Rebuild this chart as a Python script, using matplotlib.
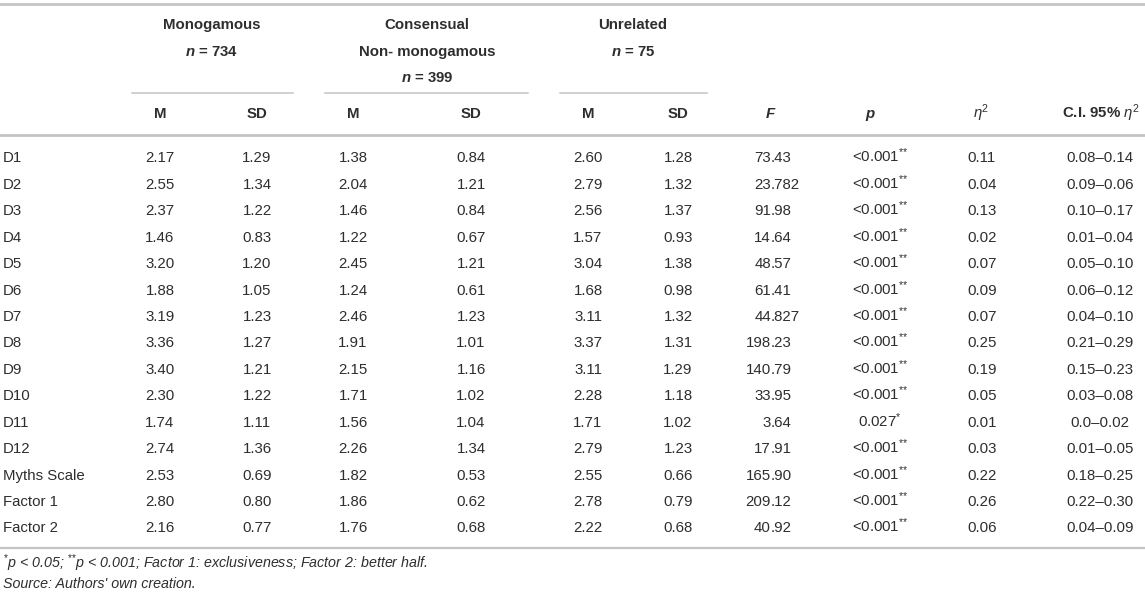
import matplotlib
matplotlib.use("Agg")
import matplotlib.pyplot as plt

plt.rcParams['font.family'] = ['Liberation Sans', 'DejaVu Sans']
plt.rcParams['mathtext.fontset'] = 'custom'
plt.rcParams['mathtext.rm'] = 'Liberation Sans'
plt.rcParams['mathtext.it'] = 'Liberation Sans:italic'
plt.rcParams['mathtext.bf'] = 'Liberation Sans:bold'
plt.rcParams['mathtext.bfit'] = 'Liberation Sans:italic:bold'

# ---- table data ----
row_labels = ['D1', 'D2', 'D3', 'D4', 'D5', 'D6', 'D7', 'D8', 'D9', 'D10',
              'D11', 'D12', 'Myths Scale', 'Factor 1', 'Factor 2']
mono_m = ['2.17', '2.55', '2.37', '1.46', '3.20', '1.88', '3.19', '3.36', '3.40',
          '2.30', '1.74', '2.74', '2.53', '2.80', '2.16']
mono_sd = ['1.29', '1.34', '1.22', '0.83', '1.20', '1.05', '1.23', '1.27', '1.21',
           '1.22', '1.11', '1.36', '0.69', '0.80', '0.77']
cons_m = ['1.38', '2.04', '1.46', '1.22', '2.45', '1.24', '2.46', '1.91', '2.15',
          '1.71', '1.56', '2.26', '1.82', '1.86', '1.76']
cons_sd = ['0.84', '1.21', '0.84', '0.67', '1.21', '0.61', '1.23', '1.01', '1.16',
           '1.02', '1.04', '1.34', '0.53', '0.62', '0.68']
unrel_m = ['2.60', '2.79', '2.56', '1.57', '3.04', '1.68', '3.11', '3.37', '3.11',
           '2.28', '1.71', '2.79', '2.55', '2.78', '2.22']
unrel_sd = ['1.28', '1.32', '1.37', '0.93', '1.38', '0.98', '1.32', '1.31', '1.29',
            '1.18', '1.02', '1.23', '0.66', '0.79', '0.68']
f_vals = ['73.43', '23.782', '91.98', '14.64', '48.57', '61.41', '44.827', '198.23',
          '140.79', '33.95', '3.64', '17.91', '165.90', '209.12', '40.92']
p_vals = ['<0.001**'] * 10 + ['0.027*'] + ['<0.001**'] * 4
eta2 = ['0.11', '0.04', '0.13', '0.02', '0.07', '0.09', '0.07', '0.25', '0.19',
        '0.05', '0.01', '0.03', '0.22', '0.26', '0.06']
ci95 = ['0.08–0.14', '0.09–0.06', '0.10–0.17', '0.01–0.04', '0.05–0.10', '0.06–0.12',
        '0.04–0.10', '0.21–0.29', '0.15–0.23', '0.03–0.08', '0.0–0.02', '0.01–0.05',
        '0.18–0.25', '0.22–0.30', '0.04–0.09']

groups = [('Monogamous', None, '734'),
          ('Consensual', 'Non- monogamous', '399'),
          ('Unrelated', None, '75')]

TXT = '#2e2e2e'
LINE = '#c4c4c4'
FS = 10.8
BL = 5.4  # centre -> baseline offset in px


def put(x, y, s, ha='center', **kw):
    kw.setdefault('fontsize', FS)
    kw.setdefault('color', TXT)
    ax.text(x, y + BL, s, ha=ha, va='baseline', **kw)


def sup_stars(k):
    return r'$^{' + '{*}' * k + '}$'


fig = plt.figure(figsize=(11.45, 5.94), dpi=100)
ax = fig.add_axes([0, 0, 1, 1])
ax.set_xlim(0, 1145)
ax.set_ylim(594, 0)
ax.axis('off')

# column centres
group_cx = [212, 427, 633]
group_span = [(132, 293), (325, 528), (560, 707)]
col_x = [160, 257, 353, 471, 588, 678]

# rules
ax.plot([0, 1145], [4, 4], color=LINE, lw=2)
ax.plot([0, 1145], [135, 135], color=LINE, lw=2)
ax.plot([0, 1145], [548, 548], color=LINE, lw=1.6)
for x0, x1 in group_span:
    ax.plot([x0, x1], [93, 93], color=LINE, lw=1.1)

# group headers
for (name, sub, n), cx in zip(groups, group_cx):
    lines = [name] + ([sub] if sub else [])
    for i, ln in enumerate(lines):
        put(cx, 24 + 26.5 * i, ln, fontweight='bold')
    put(cx, 24 + 26.5 * len(lines), r'$\mathbfit{n}$ = ' + n, fontweight='bold')

# sub headers
for x, lab in zip(col_x, ['M', 'SD'] * 3):
    put(x, 113, lab, fontweight='bold')
put(770, 113, 'F', fontweight='bold', fontstyle='italic')
put(870, 113, 'p', fontweight='bold', fontstyle='italic')
put(981, 113, r'$\eta^2$')
put(1140, 113, r'C.I. 95% $\eta^2$', ha='right', fontweight='bold')

# body
y0, dy = 157, 26.43
dec_x = 771
for i, lab in enumerate(row_labels):
    y = y0 + dy * i
    put(3, y, lab, ha='left')
    for x, col in zip(col_x, [mono_m, mono_sd, cons_m, cons_sd, unrel_m, unrel_sd]):
        put(x, y, col[i])
    ip, fp = f_vals[i].split('.')
    put(dec_x, y, ip, ha='right')
    put(dec_x, y, '.' + fp, ha='left')
    pv = p_vals[i]
    put(880, y, pv.rstrip('*') + sup_stars(pv.count('*')))
    put(982, y, eta2[i])
    put(1100, y, ci95[i])

# notes
put(3, 563, sup_stars(1) + 'p < 0.05; ' + sup_stars(2)
    + 'p < 0.001; Factor 1: exclusiveness; Factor 2: better half.',
    ha='left', fontsize=10.3, fontstyle='italic')
put(3, 583, "Source: Authors' own creation.", ha='left', fontsize=10.3,
    fontstyle='italic')

fig.savefig('out.png', dpi=100)
